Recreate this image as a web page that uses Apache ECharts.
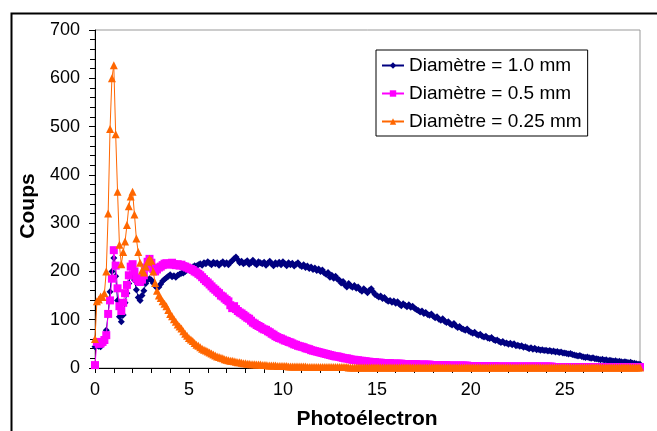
<!DOCTYPE html>
<html>
<head>
<meta charset="utf-8">
<script src="https://cdn.jsdelivr.net/npm/echarts@6/dist/echarts.min.js"></script>
<style>
html,body{margin:0;padding:0;background:#fff;}
#chart{width:657px;height:431px;}
</style>
</head>
<body>
<div id="chart"></div>
<script>
// Sampling grid of the photoelectron axis (x = index * xStep)
const xStep = 0.1;
const seriesNames = ['Diamètre = 1.0 mm', 'Diamètre = 0.5 mm', 'Diamètre = 0.25 mm'];
const xAxisTitle = 'Photoélectron';
const yAxisTitle = 'Coups';

// Diamètre = 1.0 mm
const coups10 = [
 44,46,45,44,50,60,78,112,158,200,
 228,190,140,106,96,110,135,155,175,192,
 196,182,162,146,140,150,160,175,182,185,
 182,176,170,166,168,174,180,184,187,190,
 193,189,191,188,192,194,196,197,200,203,
 205,207,209,212,211,214,216,213,218,216,
 220,217,214,219,216,218,213,217,220,215,
 218,214,219,222,226,230,224,218,221,216,
 219,222,215,218,223,217,214,220,218,216,
 219,213,217,221,216,212,218,215,219,214,
 220,216,212,218,214,217,211,215,218,213,
 210,214,208,211,206,209,204,207,202,205,
 200,203,197,194,198,188,192,186,190,184,
 182,176,179,172,168,175,170,167,171,165,
 168,162,159,164,160,156,161,164,158,152,
 150,147,149,144,146,141,138,140,136,139,
 134,137,132,129,133,130,127,131,126,128,
 124,121,119,116,118,113,115,111,109,112,
 107,104,106,101,99,102,97,94,96,91,
 89,92,87,84,86,82,80,78,81,76,
 74,72,74,70,68,70,66,64,66,62,
 61,63,59,57,58,55,53,55,51,52,
 49,51,48,50,46,47,45,46,43,44,
 42,40,42,39,41,38,39,37,38,36,
 37,35,36,34,35,33,34,32,33,31,
 31,30,29,30,28,27,26,25,26,24,
 23,22,23,21,20,21,19,19,18,17,
 18,16,17,15,16,15,14,15,13,14,
 13,12,13,12,11,12,10,10,9,8,
 8
];

// Diamètre = 0.5 mm
const coups05 = [
 6,54,50,51,54,58,68,112,140,185,
 244,212,165,128,118,135,155,172,192,210,
 215,200,186,180,178,183,192,208,220,226,
 218,205,200,204,208,210,213,216,217,214,
 216,218,215,213,215,212,214,211,210,208,
 206,205,203,200,198,195,192,188,184,180,
 177,173,169,165,162,158,155,150,148,144,
 141,138,130,124,128,122,118,115,113,110,
 107,104,102,98,94,92,89,87,85,82,
 80,79,76,74,71,69,66,64,62,61,
 59,57,56,54,53,51,49,48,46,45,
 44,43,41,40,39,37,36,35,34,33,
 32,31,30,29,28,27,26,25,24,24,
 23,22,21,20,20,19,18,17,17,16,
 16,15,15,14,14,13,13,12,12,12,
 11,11,11,10,10,10,10,10,9,9,
 9,9,9,9,8,8,8,8,8,8,
 8,8,7,7,7,7,7,7,7,6,
 6,6,6,6,6,6,6,6,5,5,
 5,5,5,5,5,5,5,5,5,4,
 4,4,4,4,4,4,4,4,4,4,
 4,4,4,4,3,3,3,3,3,3,
 3,3,3,3,3,3,3,3,3,3,
 3,3,3,3,3,3,3,3,3,3,
 3,3,3,3,2,2,2,2,2,2,
 2,2,2,2,2,2,2,2,2,2,
 2,2,2,2,2,2,2,2,2,2,
 2,2,2,2,2,2,2,2,2,2,
 2,2,2,2,2,2,2,2,2,2,
 2
];

// Diamètre = 0.25 mm
const coups025 = [
 60,138,142,148,147,155,200,320,495,600,
 627,484,365,255,215,240,262,296,335,355,
 365,318,268,240,218,202,198,210,220,226,
 222,200,176,160,150,145,138,133,128,120,
 112,107,101,96,90,86,82,76,71,67,
 62,59,56,52,48,46,43,40,38,36,
 34,32,30,28,26,24,23,21,20,18,
 17,16,15,15,14,13,12,12,11,10,
 10,9,9,8,8,8,7,7,7,6,
 6,6,5,5,5,5,5,4,4,4,
 4,4,4,3,3,3,3,3,3,3,
 3,3,3,2,2,2,2,2,2,2,
 2,2,2,2,2,2,2,2,2,2,
 2,2,2,2,2,1,1,1,1,1,
 1,1,1,1,1,1,1,1,1,1,
 1,1,1,1,1,1,1,1,1,1,
 1,1,1,1,1,1,1,1,1,1,
 1,1,1,1,1,1,1,1,1,1,
 1,1,1,1,1,1,1,1,1,1,
 1,1,1,1,1,1,1,1,1,1,
 1,1,1,1,1,1,1,1,1,1,
 1,1,1,1,1,1,1,1,1,1,
 1,1,1,1,1,1,1,1,1,1,
 1,1,1,1,1,1,1,1,1,1,
 1,1,1,1,1,1,1,1,1,1,
 1,1,1,1,1,1,1,1,1,1,
 1,1,1,1,1,1,1,1,1,1,
 1,1,1,1,1,1,1,1,1,1,
 1,1,1,1,1,1,1,1,1,1,
 1
];

const toPairs = arr => arr.map((v, i) => [Math.round(i * xStep * 10) / 10, v]);

const chart = echarts.init(document.getElementById('chart'), null, {renderer: 'canvas'});
const font = '"Liberation Sans", Arial, sans-serif';

const option = {
  animation: false,
  backgroundColor: '#fff',
  textStyle: {fontFamily: font, color: '#000'},
  grid: {left: 95, top: 30, right: 17, bottom: 63, show: true, borderColor: '#999', borderWidth: 1},
  xAxis: {
    type: 'value', min: 0, max: 29, interval: 1,
    axisLine: {lineStyle: {color: '#000', width: 1}},
    axisTick: {inside: false, length: 5, lineStyle: {color: '#000'}},
    splitLine: {show: false},
    axisLabel: {
      fontSize: 18, color: '#000', fontFamily: font, margin: 13,
      formatter: v => (v % 5 === 0 ? String(v) : ''),
      showMaxLabel: false
    }
  },
  yAxis: {
    type: 'value', min: 0, max: 700, interval: 100,
    axisLine: {show: true, lineStyle: {color: '#000', width: 1}},
    axisTick: {show: true, inside: false, length: 6, lineStyle: {color: '#000'}},
    minorTick: {show: true, splitNumber: 5, length: 5, lineStyle: {color: '#000'}},
    splitLine: {show: false},
    axisLabel: {fontSize: 18, color: '#000', fontFamily: font, margin: 15}
  },
  legend: {
    left: 376, top: 50, orient: 'vertical',
    backgroundColor: '#fff', borderColor: '#000', borderWidth: 1,
    padding: [6, 6, 5, 5], itemGap: 9, itemWidth: 22, itemHeight: 8,
    textStyle: {fontSize: 19, color: '#000', fontFamily: font, lineHeight: 18},
    data: seriesNames
  },
  series: [
    {
      name: seriesNames[0], type: 'line', data: toPairs(coups10),
      symbol: 'diamond', symbolSize: 7,
      lineStyle: {color: '#000080', width: 1}, itemStyle: {color: '#000080'}, z: 2
    },
    {
      name: seriesNames[1], type: 'line', data: toPairs(coups05),
      symbol: 'rect', symbolSize: 8,
      lineStyle: {color: '#FF00FF', width: 1}, itemStyle: {color: '#FF00FF'}, z: 3
    },
    {
      name: seriesNames[2], type: 'line', data: toPairs(coups025),
      symbol: 'triangle', symbolSize: 8,
      lineStyle: {color: '#FF6600', width: 1}, itemStyle: {color: '#FF6600'}, z: 4
    }
  ],
  graphic: [
    {type: 'rect', left: 9, top: 11, shape: {width: 700, height: 500}, style: {fill: 'none', stroke: '#000', lineWidth: 2}, silent: true, z: -1},
    {type: 'text', x: 28, y: 206, rotation: Math.PI / 2,
      style: {text: yAxisTitle, font: 'bold 21px ' + font, fill: '#000', align: 'center', verticalAlign: 'middle'}},
    {type: 'text', x: 367, y: 419,
      style: {text: xAxisTitle, font: 'bold 21px ' + font, fill: '#000', align: 'center', verticalAlign: 'middle'}}
  ]
};
chart.setOption(option);
</script>
</body>
</html>
